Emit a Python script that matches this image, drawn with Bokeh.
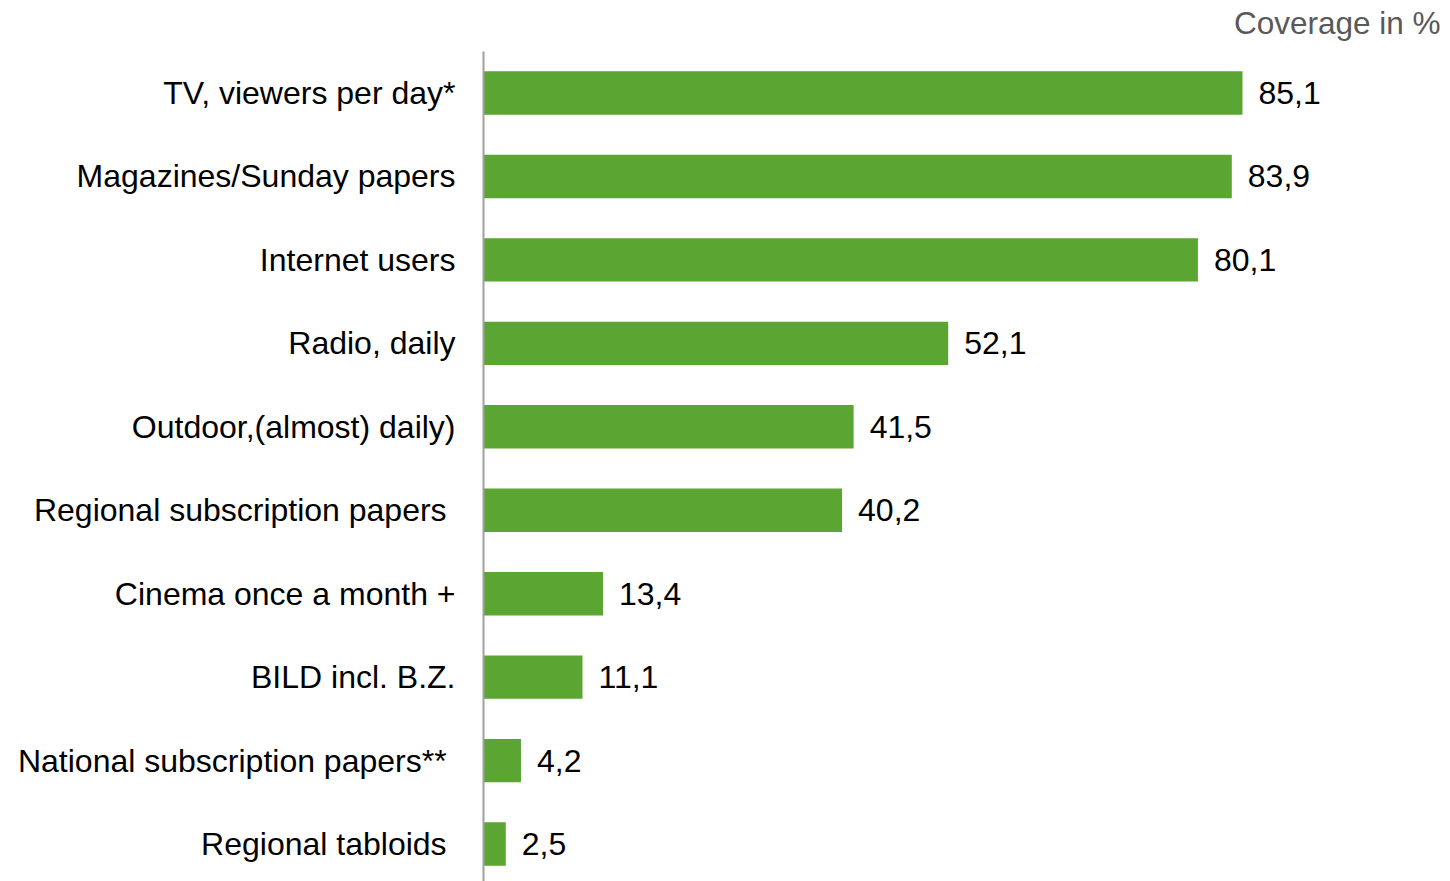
from bokeh.plotting import figure
from bokeh.models import Range1d, ColumnDataSource
from bokeh.core.properties import value
from bokeh.embed import file_html
from bokeh.resources import INLINE

# Media coverage, top to bottom
categories = [
    "TV, viewers per day*",
    "Magazines/Sunday papers",
    "Internet users",
    "Radio, daily",
    "Outdoor,(almost) daily)",
    "Regional subscription papers\u00a0",
    "Cinema once a month +",
    "BILD incl. B.Z.",
    "National subscription papers**\u00a0",
    "Regional tabloids\u00a0",
]
coverage = [85.1, 83.9, 80.1, 52.1, 41.5, 40.2, 13.4, 11.1, 4.2, 2.5]
value_labels = ["85,1", "83,9", "80,1", "52,1", "41,5", "40,2", "13,4", "11,1", "4,2", "2,5"]
unit_caption = "Coverage in %"

positions = list(range(len(categories)))
src = ColumnDataSource(dict(cat=categories, pos=positions, val=coverage, lab=value_labels))

FONT = "Liberation Sans"
W, H = 1450, 881
PX_PER_UNIT = 8.919
ZERO_X = 483
ROW = 83.45
FIRST_CENTER = 92.5   # pixel row of the first bar's centre
AXIS_TOP = 51         # pixel row where the category axis line starts
CAPTION_Y = 22        # pixel row of the unit caption


def row_of(px):
    """Convert a pixel row into the category coordinate."""
    return (px - FIRST_CENTER) / ROW


x_start = -ZERO_X / PX_PER_UNIT
x_end = (W - ZERO_X) / PX_PER_UNIT

p = figure(
    width=W, height=H,
    x_range=Range1d(x_start, x_end),
    y_range=Range1d(row_of(H), row_of(0)),
    output_backend="svg", toolbar_location=None,
    min_border=0,
    x_axis_type=None, y_axis_type=None,
)
p.outline_line_color = None
p.grid.visible = False
p.background_fill_color = "white"
p.border_fill_color = "white"

p.hbar(y="pos", right="val", left=0, height=0.52, source=src,
       fill_color="#5BA532", line_color=None)

# category axis line
p.segment(x0=0, x1=0, y0=row_of(AXIS_TOP), y1=row_of(H), line_color="#A0A0A0", line_width=2)

p.text(x=0, y="pos", text="cat", source=src, x_offset=-28,
       text_align="right", text_baseline="middle",
       text_font=value(FONT), text_font_size="32px", text_color="#000000")

p.text(x="val", y="pos", text="lab", source=src, x_offset=16,
       text_align="left", text_baseline="middle",
       text_font=value(FONT), text_font_size="32px", text_color="#000000")

p.text(x=[x_end], y=[row_of(CAPTION_Y)], text=[unit_caption], x_offset=-10,
       text_align="right", text_baseline="middle",
       text_font=value(FONT), text_font_size="31.5px", text_color="#595959")

open("out.html", "w").write(file_html(p, INLINE))
